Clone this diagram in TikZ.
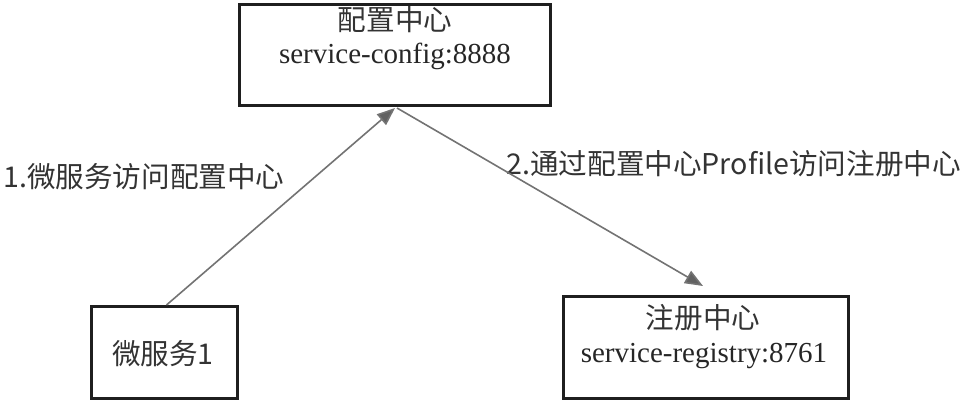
\documentclass[tikz,border=0pt]{standalone}
\usepackage{fontspec}
\setmainfont{Liberation Serif}
\newfontfamily\cjk{Noto Sans CJK SC}
\usetikzlibrary{arrows.meta}
\begin{document}
\begin{tikzpicture}[x=1pt,y=-1pt,
  boxnode/.style={draw=black!88,line width=3pt,rectangle,inner sep=0pt},
  cjktext/.style={inner sep=0pt,font=\cjk\fontsize{28.6}{34}\selectfont,text=black!80},
  sertext/.style={inner sep=0pt,font=\fontsize{29}{34}\selectfont,text=black!85},
  arr/.style={draw=black!55,line width=1.6pt,-{Triangle[length=18pt,width=14pt,fill=black!62]}}
]
\useasboundingbox (0,0) rectangle (964,403);
\node[boxnode,minimum width=311pt,minimum height=101pt] (top) at (395,55) {};
\node[boxnode,minimum width=146pt,minimum height=92pt] (b1) at (164.5,352.5) {};
\node[boxnode,minimum width=285pt,minimum height=102pt] (reg) at (706,347.5) {};
\node[cjktext] (toptitle) at (395,20) {配置中心};
\node[sertext] (topport) at (395,56) {service-config:8888};
\node[cjktext] (b1title) at (163,354) {微服务1};
\node[cjktext] (regtitle) at (703,318) {注册中心};
\node[sertext] (regport) at (704,356) {service-registry:8761};
\node[cjktext,anchor=west] (lab1) at (3,177) {1.微服务访问配置中心};
\node[cjktext,anchor=east] (lab2) at (961,164) {2.通过配置中心Profile访问注册中心};
\draw[arr] ([xshift=2pt]b1.north) -- ([yshift=-1pt]top.south);
\draw[arr] ([xshift=2pt,yshift=-1pt]top.south) -- ([xshift=-3pt,yshift=9pt]reg.north);
\end{tikzpicture}
\end{document}
